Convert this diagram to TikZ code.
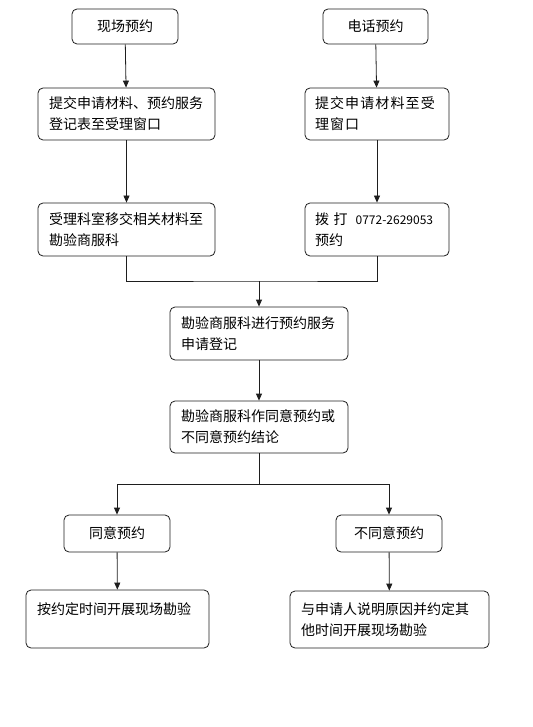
\documentclass[tikz,border=0pt]{standalone}
\usepackage{fontspec}
\newfontfamily\cjk{Noto Sans CJK SC}
\newfontfamily\cjkwide[LetterSpace=8]{Noto Sans CJK SC}
\usetikzlibrary{arrows.meta,positioning}
\definecolor{linegrey}{RGB}{30,30,30}
\begin{document}
\begin{tikzpicture}[x=1pt,y=-1pt,font=\cjk\fontsize{14}{21}\selectfont,
  box/.style={draw=linegrey,line width=0.8pt,rounded corners=5pt,fill=white},
  tbox/.style={box,align=left,inner xsep=11pt,inner ysep=0pt,text width=#1},
  arr/.style={draw=linegrey,line width=0.8pt,-{Triangle[length=7pt,width=6pt]}},
  link/.style={draw=linegrey,line width=0.8pt}]
\useasboundingbox (0,0) rectangle (532,727);
% ---------- two ways in ----------
\node[box,minimum width=106pt,minimum height=35pt] (onsite) at (125,26.5) {现场预约};
\node[box,minimum width=105pt,minimum height=35pt] (phone) at (375.5,26.5) {电话预约};
\node[tbox=155pt,minimum height=52pt] (submitl) at (126.5,114) {提交申请材料、预约服务\\登记表至受理窗口};
\node[tbox=124pt,inner xsep=10pt,minimum height=52pt,font=\cjkwide\fontsize{14}{21}\selectfont] (submitr) at (377,114)
  {提交申请材料至受\\理窗口};
\node[tbox=155pt,minimum height=53pt] (transfer) at (126.5,229.5) {受理科室移交相关材料至\\勘验商服科};
\node[tbox=124pt,inner xsep=10pt,minimum height=53pt] (dial) at (377,229.5)
  {\mbox{拨\ 打\hspace{8pt}{\fontsize{12}{21}\selectfont 0772-2629053}}\\预约};
% ---------- registration and decision ----------
\node[tbox=156pt,minimum height=53pt] (register) at (259,333.5) {勘验商服科进行预约服务\\申请登记};
\node[tbox=156pt,minimum height=52pt] (decide) at (259,427) {勘验商服科作同意预约或\\不同意预约结论};
\node[box,minimum width=106pt,minimum height=37pt] (agree) at (117,533.5) {同意预约};
\node[box,minimum width=106pt,minimum height=37pt] (disagree) at (389,533.5) {不同意预约};
\node[tbox=161pt,minimum height=58pt] (visit) at (117.5,619) {按约定时间开展现场勘验\\\mbox{}};
\node[tbox=177pt,minimum height=57pt] (other) at (389.5,619.5) {与申请人说明原因并约定其\\他时间开展现场勘验};
% ---------- connectors ----------
\draw[arr] (onsite) -- (submitl);
\draw[arr] (submitl) -- (transfer);
\draw[arr] (phone) -- (submitr);
\draw[arr] (submitr) -- (dial);
\coordinate (merge) at (259,281);
\draw[link] (transfer.south) |- (merge) -| (dial.south);
\draw[arr] (merge) -- (register);
\draw[arr] (register) -- (decide);
\coordinate (split) at (259,484);
\draw[link] (decide) -- (split);
\draw[arr] (split) -| (agree);
\draw[arr] (split) -| (disagree);
\draw[arr] (agree) -- (visit);
\draw[arr] (disagree) -- (other);
\end{tikzpicture}
\end{document}
